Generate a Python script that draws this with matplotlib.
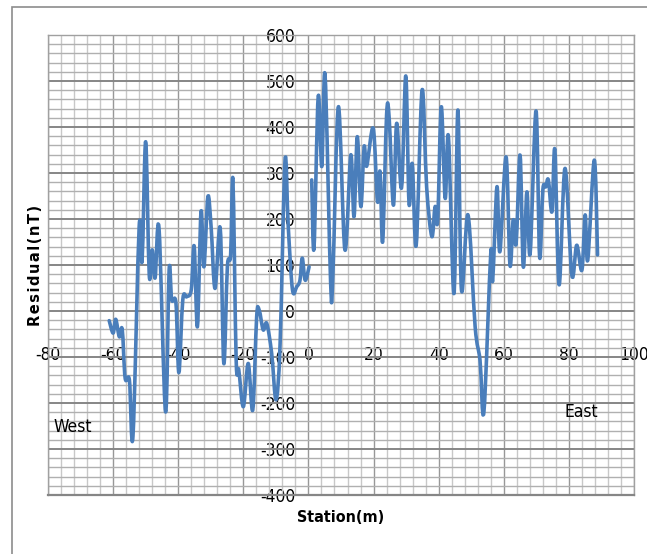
import matplotlib
matplotlib.use("Agg")
import matplotlib.pyplot as plt
from matplotlib import font_manager
from matplotlib.font_manager import FontProperties
from matplotlib.patches import Rectangle, PathPatch
from matplotlib.path import Path
import numpy as np

# Residual magnetic profile, west part of the line (station in m, residual in nT)
west_station = [-61.2, -60.0, -59.2, -58.1, -57.2, -56.3, -55.0, -53.9, -52.0, -51.1,
                -50.0, -48.9, -48.0, -47.1, -45.9, -43.9, -42.8, -42.0, -40.7, -39.8,
                -38.6, -37.4, -36.0, -35.1, -34.1, -33.0, -32.1, -30.9, -29.9, -28.7,
                -27.1, -26.0, -24.9, -23.9, -23.2, -22.2, -21.4, -20.0, -18.5, -17.1,
                -15.9, -15.1, -13.9, -12.8, -11.3, -9.95, -8.7, -7.2, -6.2, -4.9,
                -3.6, -2.6, -1.9, -1.0, 0.2]
west_residual = [-21, -48, -18, -56, -40, -146, -150, -272, 183, 109,
                 368, 78, 133, 72, 180, -219, 89, 24, 17, -134,
                 24, 31, 46, 141, -34, 216, 96, 248, 183, 49,
                 180, -114, 96, 122, 285, -107, -128, -208, -114, -215,
                 -12, 1, -41, -27, -92, -193, -70, 328, 183, 46,
                 53, 67, 115, 67, 96]

# East part of the line
east_station = [1.0, 1.7, 3.0, 4.1, 5.1, 6.8, 7.5, 9.2, 11.2, 13.0,
                14.0, 15.0, 16.1, 17.1, 17.9, 19.9, 21.2, 22.0, 22.8, 24.0,
                24.8, 26.1, 27.1, 28.6, 29.9, 30.9, 31.9, 33.1, 34.9, 36.3,
                37.9, 38.9, 39.7, 40.8, 42.0, 43.0, 44.7, 45.9, 47.0, 49.0,
                51.2, 52.7, 53.9, 56.0, 56.6, 57.9, 58.8, 60.7, 61.9, 62.9,
                63.8, 65.0, 66.0, 67.1, 68.1, 69.9, 71.0, 72.0, 72.9, 73.7,
                74.8, 75.7, 77.0, 78.8, 80.9, 82.4, 84.0, 85.0, 85.8, 87.8,
                88.8]
east_residual = [285, 136, 466, 314, 513, 64, 76, 444, 133, 339,
                 205, 379, 227, 357, 315, 397, 238, 303, 151, 426,
                 419, 230, 408, 268, 511, 234, 320, 143, 480, 270,
                 162, 227, 198, 444, 245, 379, 38, 437, 46, 209,
                 -34, -107, -219, 125, 67, 270, 129, 335, 100, 198,
                 147, 339, 96, 259, 125, 435, 118, 263, 270, 285,
                 216, 350, 57, 310, 78, 143, 89, 209, 111, 328,
                 122]

x_ticks = [-80, -60, -40, -20, 0, 20, 40, 60, 80, 100]
y_ticks = [-400, -300, -200, -100, 0, 100, 200, 300, 400, 500, 600]

plt.rcParams["axes.unicode_minus"] = False


def pick_font(bold=False):
    """Prefer a narrow/condensed sans face for the Excel-like labels."""
    cands = []
    for f in font_manager.fontManager.ttflist:
        fn = f.fname.lower()
        narrowish = ("narrow" in fn or "condensed" in fn or
                     str(f.stretch) in ("condensed", "semi-condensed", "extra-condensed"))
        if not narrowish or "mono" in fn or "serif" in fn.replace("sans", ""):
            continue
        is_bold = f.weight in ("bold", 700) or "bold" in fn
        if is_bold != bold or "italic" in fn or "oblique" in fn:
            continue
        cands.append(f.fname)
    cands.sort(key=lambda p: (0 if "liberation" in p.lower() else 1, p))
    if cands:
        return FontProperties(fname=cands[0])
    return FontProperties(family="DejaVu Sans", weight="bold" if bold else "normal")


fp_reg = pick_font(False)
fp_bold = pick_font(True)


def smooth_path(xs, ys, tension=1 / 6):
    """Cubic Bezier path through the data points (Catmull-Rom style smoothing)."""
    p = np.column_stack([xs, ys]).astype(float)
    n = len(p)
    verts = [p[0]]
    codes = [Path.MOVETO]
    for i in range(n - 1):
        p0 = p[i - 1] if i > 0 else p[i]
        p1, p2 = p[i], p[i + 1]
        p3 = p[i + 2] if i + 2 < n else p[i + 1]
        c1 = p1 + (p2 - p0) * tension
        c2 = p2 - (p3 - p1) * tension
        verts += [c1, c2, p2]
        codes += [Path.CURVE4] * 3
    return Path(verts, codes)


W, H = 647, 554
fig = plt.figure(figsize=(W / 100, H / 100), dpi=100)
fig.patch.set_facecolor("white")

# outer chart frame
fig.patches.append(Rectangle((12 / W, -0.1), 1.2, 1.1 - 7 / H,
                             transform=fig.transFigure, fill=False,
                             edgecolor="#8c8c8c", linewidth=1.2, clip_on=False))

ax = fig.add_axes([48 / W, 1 - 495 / H, (634 - 48) / W, (495 - 35) / H])
ax.set_xlim(-80, 100)
ax.set_ylim(-400, 600)

ax.set_xticks(x_ticks)
ax.set_xticks(np.arange(-80, 101, 4), minor=True)
ax.set_yticks(y_ticks)
ax.set_yticks(np.arange(-400, 601, 20), minor=True)
ax.tick_params(which="both", length=0, labelbottom=False, labelleft=False)
ax.grid(which="minor", axis="x", color="#c8c8c8", linewidth=1.0)
ax.grid(which="minor", axis="y", color="#b0b0b0", linewidth=1.0)
ax.grid(which="major", axis="x", color="#989898", linewidth=1.0)
ax.grid(which="major", axis="y", color="#868686", linewidth=1.4)
ax.set_axisbelow(True)
for s in ax.spines.values():
    s.set_color("#a0a0a0")
    s.set_linewidth(1.0)
ax.spines["bottom"].set_color("#868686")
ax.spines["bottom"].set_linewidth(1.6)

line_kw = dict(edgecolor="#4a7ebb", facecolor="none", linewidth=2.6,
               joinstyle="round", capstyle="round", zorder=3)
ax.add_patch(PathPatch(smooth_path(west_station, west_residual), **line_kw))
ax.add_patch(PathPatch(smooth_path(east_station, east_residual), **line_kw))

# category labels sit just under the -73 nT level, value labels left of x = 0
secx = ax.secondary_xaxis((-73 + 400) / 1000)
secx.set_xticks(x_ticks)
secx.tick_params(length=0, pad=1)
secx.spines["bottom"].set_visible(False)
for t in secx.get_xticklabels():
    t.set_fontproperties(fp_reg)
    t.set_fontsize(12.5)

secy = ax.secondary_yaxis(80 / 180)
secy.set_yticks(y_ticks)
secy.tick_params(length=0, pad=9.5)
secy.spines["left"].set_visible(False)
for t in secy.get_yticklabels():
    t.set_fontproperties(fp_reg)
    t.set_fontsize(12.5)

ax.text(-78.4, -252, "West", fontproperties=fp_reg, fontsize=12.5, ha="left", va="center")
ax.text(83.7, -220, "East", fontproperties=fp_reg, fontsize=12.5, ha="center", va="center")

fig.text(341 / W, 1 - 517 / H, "Station(m)", fontproperties=fp_bold, fontsize=11.5,
         ha="center", va="center")
fig.text(36 / W, 1 - 265 / H, "\u200a".join("Residual(nT)"),
         fontsize=10.5, family="DejaVu Sans", fontweight="bold",
         rotation=90, ha="center", va="center")

fig.savefig("out.png", dpi=100)
